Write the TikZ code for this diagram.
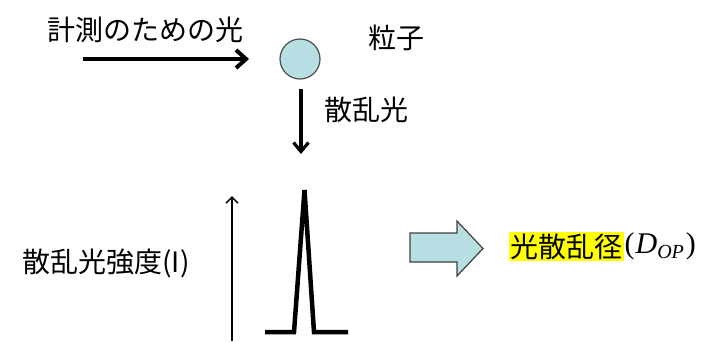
\documentclass[tikz,border=0pt]{standalone}
\usepackage{fontspec}
\setmainfont{Noto Sans CJK JP}
\newfontfamily\lserif{Liberation Serif}
\usetikzlibrary{arrows.meta}
\tikzset{
  lbl/.style={inner sep=0pt, font=\fontsize{28}{30}\selectfont},
  thickline/.style={line width=4pt},
}
\definecolor{pale}{HTML}{B7DEE2}
\definecolor{hl}{HTML}{FFFF00}
\begin{document}
\begin{tikzpicture}[x=1pt,y=-1pt]
\useasboundingbox (0,0) rectangle (701,341);
% top text
\node[lbl] (meas) at (145,30) {計測のための光};
\coordinate (a1s) at (83,59);
\coordinate (a1e) at (249,59);
\draw[thickline, -{Straight Barb[length=10pt,width=18pt,line width=4pt]}] (a1s) -- (a1e);
% particle
\node[circle, minimum size=40pt, inner sep=0pt, fill=pale, draw=black!70, line width=1.2pt] (part) at (300,59) {};
\node[lbl] (ryushi) at (396,38) {粒子};
% scattered light arrow
\coordinate (a2s) at (301,89);
\coordinate (a2e) at (301,154);
\draw[line width=3.2pt, -{Straight Barb[length=9pt,width=15pt,line width=3.2pt]}] (a2s) -- (a2e);
\node[lbl] (sanran) at (366,110) {散乱光};
% axis
\coordinate (ax0) at (232,341);
\coordinate (ax1) at (232,196);
\draw[line width=1.5pt, -{Straight Barb[length=6pt,width=12pt,line width=1.5pt]}] (ax0) -- (ax1);
\node[lbl] (inten) at (106,263) {散乱光強度(I)};
% peak
\coordinate (p1) at (265,332);
\coordinate (p2) at (294,332);
\coordinate (p3) at (304.5,190);
\coordinate (p4) at (314,332);
\coordinate (p5) at (348,332);
\draw[line width=4.5pt, line join=miter] (p1) -- (p2) -- (p3) -- (p4) -- (p5);
% block arrow
\draw[fill=pale, draw=black!75, line width=1.2pt]
  (410,233) -- (457,233) -- (457,221) -- (483,248.5) -- (457,276) -- (457,262) -- (410,262) -- cycle;
% result
\node[lbl, fill=hl, inner sep=1.5pt, anchor=west] (res) at (509,246.5) {光散乱径};
\node[inner sep=0pt, anchor=west, font=\fontsize{30}{32}\lserif] (dop) at (res.east)
  {(\kern1pt{\itshape D}\raisebox{-5pt}{\fontsize{20}{22}\selectfont\itshape OP}\kern2pt)};
\end{tikzpicture}
\end{document}
